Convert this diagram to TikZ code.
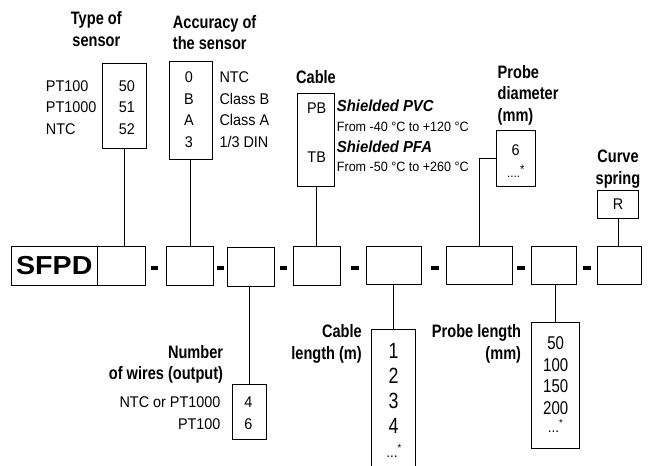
\documentclass[tikz,border=0pt]{standalone}
\usepackage{fontspec}
\setmainfont[FakeStretch=0.93]{Liberation Sans}
\newfontfamily\narrowfont[FakeStretch=0.81]{Liberation Sans}
\newfontfamily\widefont[FakeStretch=1.1]{Liberation Sans}
\usepackage{tikz}

\begin{document}
\begin{tikzpicture}[x=1pt,y=-1pt,
    cell/.style={draw,line width=0.7pt,inner sep=0,minimum height=38.5pt},
    wire/.style={line width=0.7pt},
    sepbar/.style={fill,inner sep=0,minimum width=7.5pt,minimum height=4pt},
    title/.style={font=\narrowfont\bfseries\fontsize{18}{21.5}\selectfont,inner sep=0},
    txt/.style={font=\fontsize{15.5}{21.5}\selectfont,inner sep=0},
    spec/.style={font=\bfseries\itshape\fontsize{16}{19}\selectfont,inner sep=0},
    rangetxt/.style={font=\fontsize{13.5}{16}\selectfont,inner sep=0},
    bigval/.style={font=\narrowfont\fontsize{22}{25}\selectfont,inner sep=0},
    plval/.style={font=\narrowfont\fontsize{18.5}{21.5}\selectfont,inner sep=0},
    more/.style={font=\fontsize{14.5}{16}\selectfont,inner sep=0,anchor=base}]
    \useasboundingbox (0,0) rectangle (657,466);
    % code row
    \node[cell,minimum width=86pt,font=\widefont\bfseries\fontsize{26}{30}\selectfont] (sfpd) at (54.3,266) {SFPD};
    \node[cell,minimum width=48pt] (c1) at (121.3,266) {};
    \node[cell,minimum width=47.3pt] (c2) at (189.65,266) {};
    \node[cell,minimum width=47pt,minimum height=39.4pt] (c3) at (250.5,267) {};
    \node[cell,minimum width=47pt] (c4) at (316.8,266) {};
    \node[cell,minimum width=55.4pt] (c5) at (394,265.5) {};
    \node[cell,minimum width=66pt] (c6) at (479.3,265.5) {};
    \node[cell,minimum width=45.3pt] (c7) at (553.65,265.5) {};
    \node[cell,minimum width=44.3pt] (c8) at (619.15,265.5) {};
    \node[sepbar] (d1) at (154.5,267.7) {};
    \node[sepbar] (d2) at (220.3,267.7) {};
    \node[sepbar] (d3) at (283.7,267.7) {};
    \node[sepbar] (d4) at (355.2,267.7) {};
    \node[sepbar] (d5) at (435,267.7) {};
    \node[sepbar] (d6) at (521.2,267.7) {};
    \node[sepbar] (d7) at (587,267.7) {};

    % type of sensor
    \node[title,align=center,anchor=north] (typetitle) at (96.3,11.7) {Type of\\sensor};
    \node[cell,minimum width=44pt,minimum height=84.7pt] (typebox) at (124.7,105.65) {};
    \node[txt,align=left,anchor=north west] (typenames) at (45.7,80) {PT100\\PT1000\\NTC};
    \node[txt,align=right,anchor=north east] (typevals) at (135,80) {50\\51\\52};
    \draw[wire] (typebox.south) -- (typebox.south |- c1.north);

    % accuracy
    \node[title,align=left,anchor=north west] (acctitle) at (172.7,15) {Accuracy of\\the sensor};
    \node[cell,minimum width=43.3pt,minimum height=97.3pt] (accbox) at (190.65,110.35) {};
    \node[txt,align=center,anchor=north] (accvals) at (189,71.7) {0\\B\\A\\3};
    \node[txt,align=left,anchor=north west] (accnames) at (219.3,71.7) {NTC\\Class B\\Class A\\1/3 DIN};
    \draw[wire] (accbox.south) -- (accbox.south |- c2.north);

    % cable
    \node[title,anchor=north] (cabletitle) at (316,70) {Cable};
    \node[cell,minimum width=37pt,minimum height=92.5pt] (cablebox) at (315.8,139.75) {};
    \node[txt] (pb) at (316.7,108.3) {PB};
    \node[txt] (tb) at (316.7,157.3) {TB};
    \node[spec,anchor=west] (pvc) at (336.7,106) {Shielded PVC};
    \node[rangetxt,anchor=west] (pvcrange) at (336.7,127.3) {From -40 °C to +120 °C};
    \node[spec,anchor=west] (pfa) at (336.7,146.7) {Shielded PFA};
    \node[rangetxt,anchor=west] (pfarange) at (336.7,167.3) {From -50 °C to +260 °C};
    \draw[wire] (c4.north) -- (c4.north |- cablebox.south);

    % probe diameter
    \node[title,align=left,anchor=north west] (diamtitle) at (497.5,65) {Probe\\diameter\\(mm)};
    \node[cell,minimum width=39pt,minimum height=56pt] (diambox) at (516.2,158.7) {};
    \node[txt] (diamval) at (515.7,150) {6};
    \node[more,font=\fontsize{12.5}{14}\selectfont] (diammore) at (516,177.5) {....\textsuperscript{\large *}};
    \draw[wire] (c6.north) |- (diambox.west);

    % curve spring
    \node[title,align=center,anchor=north] (springtitle) at (618,150) {Curve\\spring};
    \node[cell,minimum width=40.6pt,minimum height=28.3pt,txt] (rbox) at (618,204.15) {R};
    \draw[wire] (rbox.south) -- (rbox.south |- c8.north);

    % number of wires
    \node[title,align=right,anchor=north east] (wirestitle) at (223.3,345) {Number\\of wires (output)};
    \node[cell,minimum width=34.7pt,minimum height=55pt] (wiresbox) at (249.35,411.5) {};
    \node[txt,align=right,anchor=north east] (wiresnames) at (220.7,396.7) {NTC or PT1000\\PT100};
    \node[txt,align=center,anchor=north] (wiresvals) at (248.3,396.7) {4\\6};
    \draw[wire] (wiresbox.north) -- (wiresbox.north |- c3.south);

    % cable length
    \node[title,align=right,anchor=north east] (lentitle) at (362,324.3) {Cable\\length (m)};
    \node[cell,minimum width=44pt,minimum height=140.7pt] (lenbox) at (393.7,399.65) {};
    \node[bigval,align=center,anchor=north] (lenvals) at (393.7,343.3) {1\\2\\3\\4};
    \node[more] (lenmore) at (394,457) {...\textsuperscript{*}};
    \draw[wire] (lenbox.north) -- (lenbox.north |- c5.south);

    % probe length
    \node[title,align=right,anchor=north east] (plentitle) at (521.3,324.3) {Probe length\\(mm)};
    \node[cell,minimum width=48.4pt,minimum height=126.4pt] (plenbox) at (555.5,385.5) {};
    \node[plval,align=center,anchor=north] (plenvals) at (555.7,336.7) {50\\100\\150\\200};
    \node[more] (plenmore) at (555.5,432) {...\textsuperscript{*}};
    \draw[wire] (plenbox.north) -- (plenbox.north |- c7.south);
  \end{tikzpicture}
\end{document}
